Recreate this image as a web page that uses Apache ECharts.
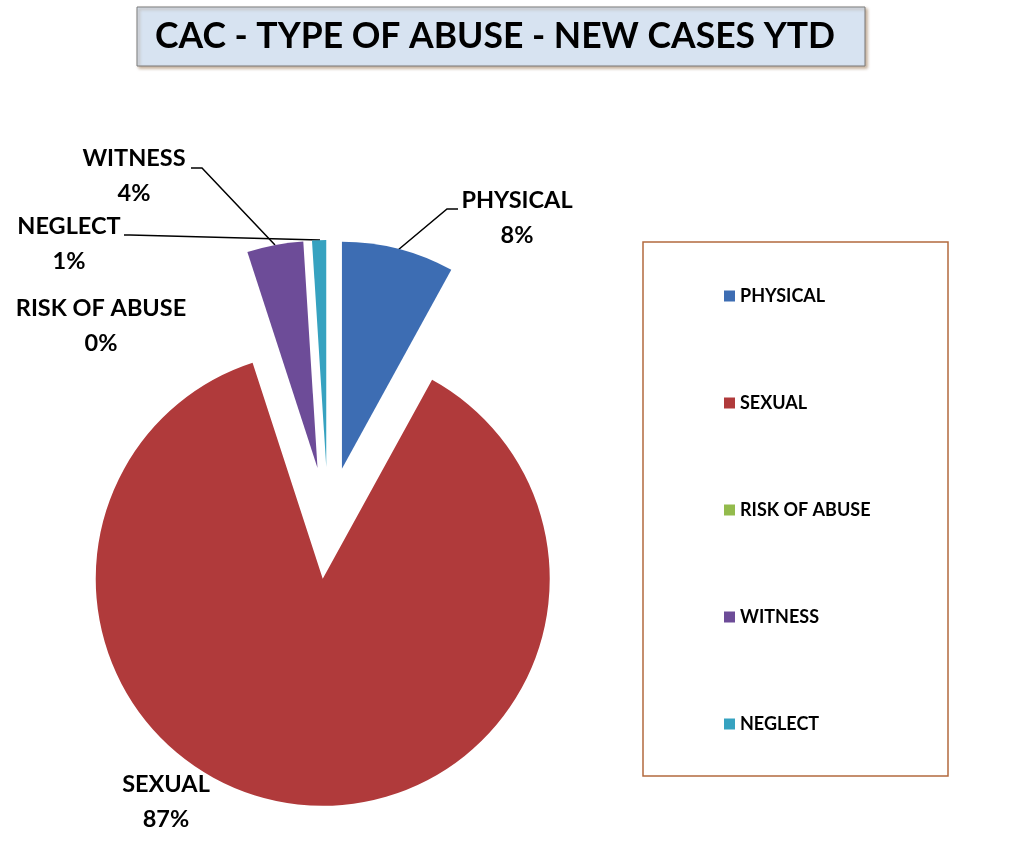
<!DOCTYPE html>
<html><head><meta charset="utf-8">
<script src="https://cdn.jsdelivr.net/npm/echarts@6/dist/echarts.min.js"></script>
<style>html,body{margin:0;padding:0;background:#fff}#c{width:1011px;height:853px}</style>
</head><body><div id="c"></div>
<script>
const chartTitle = 'CAC - TYPE OF ABUSE - NEW CASES YTD';
const categories = ['PHYSICAL', 'SEXUAL', 'RISK OF ABUSE', 'WITNESS', 'NEGLECT'];
const values = [8, 87, 0, 4, 1];
const colors = ['#3d6db3', '#b03a3b', '#93bb4c', '#6d4c98', '#36a2c0'];

// label placement (layout only)
const labelPlacement = [
  { x: 517, y: 218, line: [[398, 250], [447, 209], [458, 209]] },
  { x: 166, y: 802, line: null },
  { x: 101, y: 326, line: null },
  { x: 134, y: 176, line: [[275, 245], [202, 168], [191, 168]] },
  { x: 69, y: 244, line: [[320, 240], [130, 235], [124, 235]] }
];

const FONT = 'Lato, "Open Sans", sans-serif';
const PIE_CENTER = [328, 523];
const PIE_R = 227;
const chart = echarts.init(document.getElementById('c'));
chart.setOption({
  animation: false,
  color: colors,
  graphic: [
    { type: 'rect', shape: { x: 137, y: 7, width: 728, height: 59 },
      style: { fill: '#d7e3f1', stroke: '#7a7a7a', lineWidth: 1,
        shadowColor: 'rgba(140,100,60,0.5)', shadowOffsetX: 2, shadowOffsetY: 2, shadowBlur: 3 }, z: 0 },
    { type: 'text', x: 495, y: 37, z: 1,
      style: { text: chartTitle, font: 'bold 35.5px ' + FONT, fill: '#000', align: 'center', verticalAlign: 'middle' } },
    { type: 'rect', shape: { x: 643, y: 242, width: 305, height: 534 },
      style: { fill: 'none', stroke: '#b36a3e', lineWidth: 1.5 }, z: 0 }
  ],
  legend: {
    orient: 'vertical', left: 724, top: 287, padding: 0,
    itemWidth: 11, itemHeight: 11, itemGap: 89, icon: 'rect',
    selectedMode: false,
    textStyle: { fontFamily: FONT, fontWeight: 'bold', fontSize: 18, color: '#000' },
    data: categories
  },
  series: [{
    // exploded slices
    type: 'pie',
    center: PIE_CENTER,
    radius: PIE_R,
    startAngle: 90,
    clockwise: true,
    selectedMode: 'multiple',
    selectedOffset: 56,
    emphasis: { disabled: true },
    itemStyle: { borderWidth: 0 },
    label: { show: false },
    labelLine: { show: false },
    data: categories.map((c, i) => ({ name: c, value: values[i], selected: true }))
  }, {
    // data labels
    type: 'pie',
    center: PIE_CENTER,
    radius: PIE_R,
    startAngle: 90,
    clockwise: true,
    silent: true,
    avoidLabelOverlap: false,
    emphasis: { disabled: true },
    itemStyle: { color: 'rgba(0,0,0,0)', borderWidth: 0 },
    label: {
      show: true,
      formatter: p => p.name + '\n' + Math.round(p.percent) + '%',
      fontFamily: FONT, fontWeight: 'bold', fontSize: 23.5, lineHeight: 35, color: '#000', align: 'center'
    },
    labelLine: { show: true, length: 10, length2: 10, smooth: false, lineStyle: { color: '#000', width: 1.5 } },
    labelLayout: function (p) {
      const lp = labelPlacement[p.dataIndex];
      const o = { x: lp.x, y: lp.y, align: 'center', verticalAlign: 'middle' };
      if (lp.line) o.labelLinePoints = lp.line;
      return o;
    },
    data: categories.map((c, i) => ({ name: c, value: values[i],
      labelLine: { show: !!labelPlacement[i].line } }))
  }]
});
</script></body></html>
